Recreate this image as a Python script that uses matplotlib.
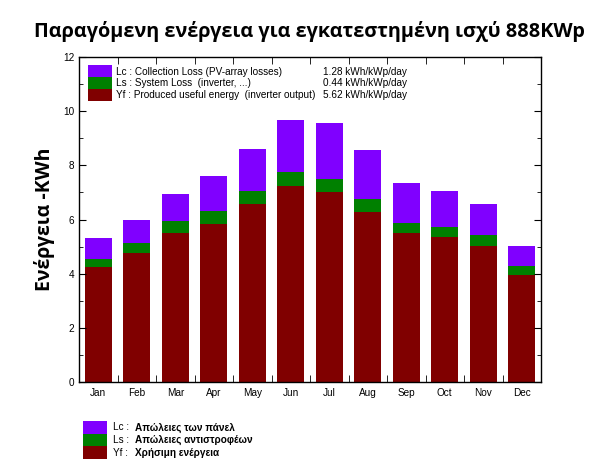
import matplotlib
matplotlib.use('Agg')
import matplotlib.pyplot as plt
from matplotlib.patches import Rectangle
import numpy as np

# data (kWh/kWp/day)
months = ['Jan', 'Feb', 'Mar', 'Apr', 'May', 'Jun', 'Jul', 'Aug', 'Sep', 'Oct', 'Nov', 'Dec']
yf = [4.23, 4.75, 5.49, 5.82, 6.56, 7.22, 7.00, 6.26, 5.49, 5.34, 5.04, 3.94]
ls = [0.32, 0.39, 0.44, 0.48, 0.51, 0.52, 0.51, 0.50, 0.39, 0.39, 0.40, 0.33]
lc = [0.75, 0.86, 1.00, 1.29, 1.55, 1.95, 2.04, 1.79, 1.45, 1.31, 1.12, 0.74]

legend_top = ['Lc : Collection Loss (PV-array losses)',
              'Ls : System Loss  (inverter, ...)',
              'Yf : Produced useful energy  (inverter output)']
legend_vals = ['1.28 kWh/kWp/day', '0.44 kWh/kWp/day', '5.62 kWh/kWp/day']
legend_keys = ['Lc :', 'Ls :', 'Yf :']
legend_gr = ['Απώλειες των πάνελ', 'Απώλειες αντιστροφέων', 'Χρήσιμη ενέργεια']

c_lc = '#8000ff'
c_ls = '#008000'
c_yf = '#800000'
colors = [c_lc, c_ls, c_yf]

plt.rcParams['font.family'] = ['Liberation Sans', 'DejaVu Sans']

W, H = 611, 463
fig = plt.figure(figsize=(W / 100, H / 100), dpi=100)
ax = fig.add_axes([79 / W, 1 - 382 / H, (541 - 79) / W, (382 - 57) / H])

x = np.arange(len(months))
yf_a = np.array(yf)
ls_a = np.array(ls)
lc_a = np.array(lc)
ax.bar(x, yf_a, width=0.7, color=c_yf)
ax.bar(x, ls_a, width=0.7, bottom=yf_a, color=c_ls)
ax.bar(x, lc_a, width=0.7, bottom=yf_a + ls_a, color=c_lc)

ax.set_xlim(-0.5, 11.5)
ax.set_ylim(0, 12)
ax.set_yticks(np.arange(0, 13, 2))
ax.set_yticks(np.arange(1, 12, 2), minor=True)
ax.set_xticks(x)
ax.set_xticklabels(months)
ax.set_xticks(np.arange(0.5, 11, 1), minor=True)
ax.tick_params(axis='x', which='major', length=0, labelsize=7.2, pad=4)
ax.tick_params(axis='x', which='minor', direction='in', length=5, top=True, bottom=True)
ax.tick_params(axis='y', which='major', direction='in', length=5, labelsize=7.2,
               left=True, right=True)
ax.tick_params(axis='y', which='minor', direction='in', length=3, left=True, right=True)
for s in ax.spines.values():
    s.set_linewidth(1.0)

ax.set_ylabel('Ενέργεια -KWh', fontsize=14, fontweight='bold', family='Open Sans', labelpad=6)
fig.text(309 / W, 1 - 31 / H, 'Παραγόμενη ενέργεια για εγκατεστημένη ισχύ 888KWp',
         ha='center', va='center', fontsize=14.3, family='Open Sans', fontweight='bold')

# legend inside the plot
for i in range(3):
    y0 = 65.3 + i * 11.8
    fig.add_artist(Rectangle((88 / W, 1 - (y0 + 11.8) / H), 24 / W, 11.8 / H,
                             transform=fig.transFigure, color=colors[i], lw=0))
    fig.text(116 / W, 1 - (y0 + 6.3) / H, legend_top[i], fontsize=7.2, va='center')
    fig.text(407 / W, 1 - (y0 + 6.3) / H, legend_vals[i], fontsize=7.2, va='center', ha='right')

# greek legend below
for i in range(3):
    y0 = 421 + i * 12.5
    fig.add_artist(Rectangle((83 / W, 1 - (y0 + 12.5) / H), 24 / W, 12.5 / H,
                             transform=fig.transFigure, color=colors[i], lw=0))
    fig.text(113 / W, 1 - (y0 + 6.5) / H, legend_keys[i], fontsize=7.2, va='center')
    fig.text(135 / W, 1 - (y0 + 6.5) / H, legend_gr[i], fontsize=7.2, va='center', fontweight='bold')

fig.savefig('out.png', dpi=100)
